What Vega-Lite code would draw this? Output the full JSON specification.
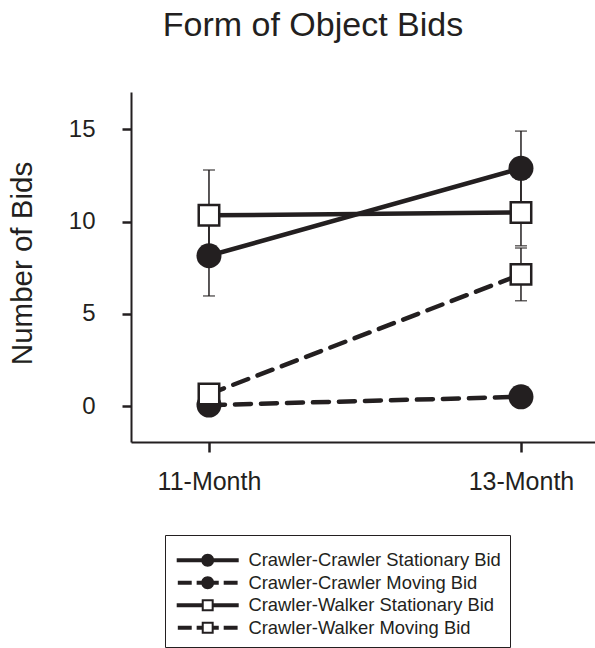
{
  "$schema": "https://vega.github.io/schema/vega-lite/v6.json",
  "autosize": "none",
  "padding": {"left": 131, "top": 92, "right": 0, "bottom": 206},
  "width": 464,
  "height": 350,
  "title": {
    "text": "Form of Object Bids",
    "font": "Liberation Sans",
    "fontSize": 34,
    "fontWeight": "normal",
    "color": "#231f20",
    "anchor": "middle",
    "baseline": "alphabetic",
    "dx": -50,
    "offset": 22
  },
  "config": {
    "view": {"stroke": null},
    "font": "Liberation Sans"
  },
  "datasets": {
    "bids": [
      {"month": "11-Month", "series": "Crawler-Crawler Stationary Bid", "value": 8.15, "lo": 5.97, "hi": 10.33},
      {"month": "13-Month", "series": "Crawler-Crawler Stationary Bid", "value": 12.89, "lo": 10.87, "hi": 14.91},
      {"month": "11-Month", "series": "Crawler-Crawler Moving Bid", "value": 0.05, "lo": null, "hi": null},
      {"month": "13-Month", "series": "Crawler-Crawler Moving Bid", "value": 0.5, "lo": null, "hi": null},
      {"month": "11-Month", "series": "Crawler-Walker Stationary Bid", "value": 10.34, "lo": 7.88, "hi": 12.8},
      {"month": "13-Month", "series": "Crawler-Walker Stationary Bid", "value": 10.5, "lo": 8.69, "hi": 12.31},
      {"month": "11-Month", "series": "Crawler-Walker Moving Bid", "value": 0.65, "lo": null, "hi": null},
      {"month": "13-Month", "series": "Crawler-Walker Moving Bid", "value": 7.14, "lo": 5.71, "hi": 8.57}
    ]
  },
  "data": {"name": "bids"},
  "encoding": {
    "x": {
      "field": "month",
      "type": "ordinal",
      "sort": ["11-Month", "13-Month"],
      "scale": {"type": "point", "padding": 0.2436, "align": 0.513},
      "axis": {
        "title": null,
        "labelAngle": 0,
        "labelFont": "Liberation Sans",
        "labelFontSize": 25,
        "labelColor": "#231f20",
        "labelPadding": 17,
        "domainColor": "#231f20",
        "domainWidth": 2,
        "tickColor": "#231f20",
        "tickWidth": 2.5,
        "tickSize": 10,
        "grid": false
      }
    }
  },
  "layer": [
    {
      "transform": [{"filter": "isValid(datum.lo)"}],
      "mark": {"type": "rule", "color": "#231f20", "strokeWidth": 1.5},
      "encoding": {
        "y": {"field": "lo", "type": "quantitative", "scale": {"domain": [-1.95, 17.03], "nice": false, "zero": false}},
        "y2": {"field": "hi"}
      }
    },
    {
      "transform": [{"filter": "isValid(datum.lo)"}],
      "mark": {"type": "tick", "orient": "horizontal", "color": "#231f20", "thickness": 1.5, "size": 12},
      "encoding": {
        "y": {"field": "lo", "type": "quantitative"}
      }
    },
    {
      "transform": [{"filter": "isValid(datum.lo)"}],
      "mark": {"type": "tick", "orient": "horizontal", "color": "#231f20", "thickness": 1.5, "size": 12},
      "encoding": {
        "y": {"field": "hi", "type": "quantitative"}
      }
    },
    {
      "transform": [{"filter": "indexof(datum.series, 'Stationary') >= 0"}],
      "mark": {"type": "line", "color": "#231f20", "strokeWidth": 4.5, "strokeCap": "round"},
      "encoding": {
        "y": {
          "field": "value",
          "type": "quantitative",
          "scale": {"domain": [-1.95, 17.03], "nice": false, "zero": false},
          "axis": {
            "title": "Number of Bids",
            "titleFont": "Liberation Sans",
            "titleFontSize": 29.5,
            "titleFontWeight": "normal",
            "titleColor": "#231f20",
            "titleX": -100,
            "titleY": 171,
            "titleBaseline": "alphabetic",
            "titleAlign": "center",
            "titleAngle": 270,
            "values": [0, 5, 10, 15],
            "labelFont": "Liberation Sans",
            "labelFontSize": 24,
            "labelColor": "#231f20",
            "labelPadding": 27,
            "domainColor": "#231f20",
            "domainWidth": 2,
            "tickColor": "#231f20",
            "tickWidth": 2.5,
            "tickSize": 9,
            "grid": false
          }
        },
        "detail": {"field": "series"}
      }
    },
    {
      "transform": [{"filter": "indexof(datum.series, 'Moving') >= 0"}],
      "mark": {"type": "line", "color": "#231f20", "strokeWidth": 4.5, "strokeCap": "round", "strokeDash": [16, 10]},
      "encoding": {
        "y": {"field": "value", "type": "quantitative"},
        "detail": {"field": "series"}
      }
    },
    {
      "transform": [{"filter": "indexof(datum.series, 'Crawler-Crawler') === 0"}],
      "mark": {"type": "point", "shape": "circle", "filled": true, "color": "#231f20", "size": 625, "opacity": 1},
      "encoding": {
        "y": {"field": "value", "type": "quantitative"}
      }
    },
    {
      "transform": [{"filter": "indexof(datum.series, 'Crawler-Walker') === 0"}],
      "mark": {"type": "point", "shape": "square", "filled": false, "fill": "white", "stroke": "#231f20", "strokeWidth": 2.5, "size": 420, "opacity": 1},
      "encoding": {
        "y": {"field": "value", "type": "quantitative"}
      }
    },
    {
      "mark": {"type": "point", "filled": true, "color": "#231f20", "size": 0, "opacity": 1},
      "encoding": {
        "y": {"field": "value", "type": "quantitative"},
        "shape": {
          "field": "series",
          "type": "nominal",
          "scale": {
            "domain": ["Crawler-Crawler Stationary Bid", "Crawler-Crawler Moving Bid", "Crawler-Walker Stationary Bid", "Crawler-Walker Moving Bid"],
            "range": [
              "M-1,-0.3H8.54V0.3H-1Z M2.77,0A1,1,0,1,1,4.77,0A1,1,0,1,1,2.77,0Z",
              "M-0.83,-0.3H1.31V0.3H-0.83Z M2.07,-0.3H2.87V0.3H2.07Z M4.67,-0.3H5.47V0.3H4.67Z M6.23,-0.3H8.37V0.3H6.23Z M2.77,0A1,1,0,1,1,4.77,0A1,1,0,1,1,2.77,0Z",
              "M-1,-0.3H2.85V0.3H-1Z M4.69,-0.3H8.54V0.3H4.69Z M2.85,-0.92H4.69V0.92H2.85Z M3.16,-0.61V0.61H4.38V-0.61Z",
              "M-0.83,-0.3H1.31V0.3H-0.83Z M2.07,-0.3H2.85V0.3H2.07Z M4.69,-0.3H5.47V0.3H4.69Z M6.23,-0.3H8.37V0.3H6.23Z M2.85,-0.92H4.69V0.92H2.85Z M3.16,-0.61V0.61H4.38V-0.61Z"
            ]
          },
          "legend": {
            "title": " ",
            "titleFontSize": 5,
            "titlePadding": 2,
            "orient": "none",
            "legendX": 34,
            "legendY": 443,
            "direction": "vertical",
            "padding": 9,
            "strokeColor": "#231f20",
            "symbolSize": 169,
            "symbolFillColor": "#231f20",
            "symbolStrokeWidth": 0,
            "labelFont": "Liberation Sans",
            "labelFontSize": 18.4,
            "labelColor": "#231f20",
            "labelLimit": 500,
            "labelOffset": 56,
            "rowPadding": 3.5,
            "encode": {"legend": {"update": {"strokeWidth": {"value": 2}}}}
          }
        }
      }
    }
  ]
}
